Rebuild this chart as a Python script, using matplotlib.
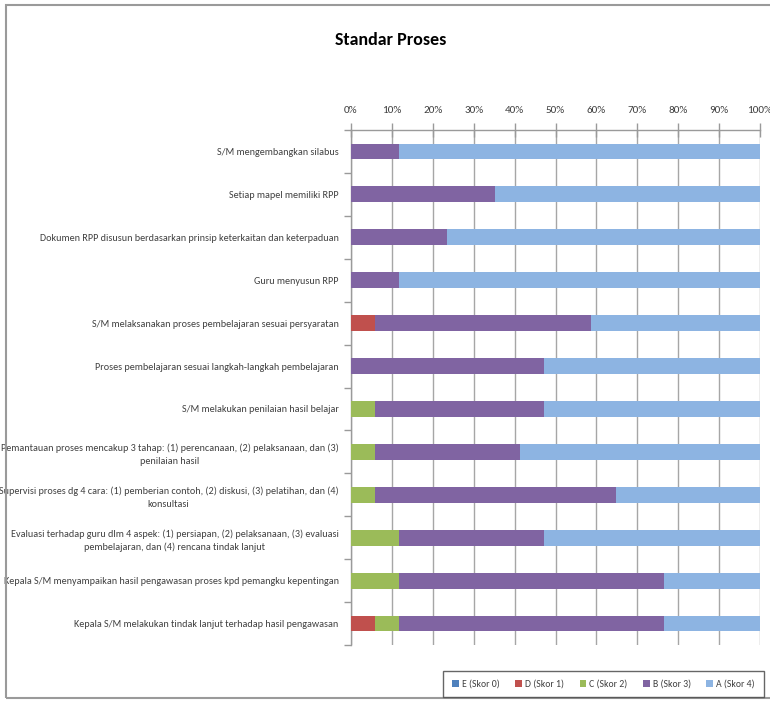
import matplotlib
matplotlib.use("Agg")
import matplotlib.pyplot as plt
import numpy as np
from matplotlib.patches import Rectangle
from matplotlib.ticker import FixedLocator, PercentFormatter

categories = [
    "S/M mengembangkan silabus",
    "Setiap mapel memiliki RPP",
    "Dokumen RPP disusun berdasarkan prinsip keterkaitan dan keterpaduan",
    "Guru menyusun RPP",
    "S/M melaksanakan proses pembelajaran sesuai persyaratan",
    "Proses pembelajaran sesuai langkah-langkah pembelajaran",
    "S/M melakukan penilaian hasil belajar",
    "Pemantauan proses mencakup 3 tahap: (1) perencanaan, (2) pelaksanaan, dan (3)\npenilaian hasil",
    "Supervisi proses dg 4 cara: (1) pemberian contoh, (2) diskusi, (3) pelatihan, dan (4)\nkonsultasi",
    "Evaluasi terhadap guru dlm 4 aspek: (1) persiapan, (2) pelaksanaan, (3) evaluasi\npembelajaran, dan (4) rencana tindak lanjut",
    "Kepala S/M menyampaikan hasil pengawasan proses kpd pemangku kepentingan",
    "Kepala S/M melakukan tindak lanjut terhadap hasil pengawasan",
]

series_names = ["E (Skor 0)", "D (Skor 1)", "C (Skor 2)", "B (Skor 3)", "A (Skor 4)"]

# percentages
E_skor0 = [0, 0, 0, 0, 0, 0, 0, 0, 0, 0, 0, 0]
D_skor1 = [0, 0, 0, 0, 5.9, 0, 0, 0, 0, 0, 0, 5.9]
C_skor2 = [0, 0, 0, 0, 0, 0, 5.9, 5.9, 5.9, 11.8, 11.8, 5.9]
B_skor3 = [11.8, 35.3, 23.5, 11.8, 52.9, 47.1, 41.2, 35.3, 58.8, 35.3, 64.7, 64.7]
A_skor4 = [88.2, 64.7, 76.5, 88.2, 41.2, 52.9, 52.9, 58.8, 35.3, 52.9, 23.5, 23.5]

xtick_values = [0, 10, 20, 30, 40, 50, 60, 70, 80, 90, 100]

colors = ["#4F81BD", "#C0504D", "#9BBB59", "#8064A2", "#8DB4E2"]

FONT = ["Carlito", "DejaVu Sans"]
plt.rcParams["font.family"] = FONT

fig = plt.figure(figsize=(7.7, 7.07), dpi=100)
fig.patch.set_facecolor("white")

# outer chart frame
fig.add_artist(Rectangle((6 / 770, 1 - 698 / 707), 1.2, (698 - 5) / 707,
                         transform=fig.transFigure, fill=False,
                         edgecolor="#9a9a9a", linewidth=1.5))

ax = fig.add_axes([351 / 770, 1 - 645 / 707, 409 / 770, 515 / 707])

y = np.arange(len(categories))
left = np.zeros(len(categories))
data = [E_skor0, D_skor1, C_skor2, B_skor3, A_skor4]
for name, vals, col in zip(series_names, data, colors):
    vals = np.array(vals, dtype=float)
    ax.barh(y, vals, left=left, height=0.37, color=col, label=name, zorder=3)
    left += vals

ax.set_xlim(0, 100)
ax.set_ylim(len(categories) - 0.5, -0.5)

ax.xaxis.tick_top()
ax.set_xticks(xtick_values)
ax.xaxis.set_major_formatter(PercentFormatter(decimals=0))
ax.tick_params(axis="x", which="major", direction="inout", length=10, width=1,
               color="#9a9a9a", labelsize=8, labelcolor="#404040", pad=6)
ax.grid(axis="x", color="#a6a6a6", linewidth=1, zorder=0)

ax.set_yticks(y)
ax.set_yticklabels(categories)
ax.yaxis.set_minor_locator(FixedLocator(np.arange(-0.5, len(categories), 1.0)))
ax.tick_params(axis="y", which="major", length=0, labelsize=7.3, labelcolor="#404040", pad=9)
ax.tick_params(axis="y", which="minor", length=5, width=1, color="#9a9a9a", direction="out")
for lbl in ax.get_yticklabels():
    lbl.set_multialignment("center")
    lbl.set_linespacing(1.5)

for s in ["right", "bottom"]:
    ax.spines[s].set_visible(False)
for s in ["left", "top"]:
    ax.spines[s].set_color("#9a9a9a")
    ax.spines[s].set_linewidth(1)

fig.text(391 / 770, 1 - 40 / 707, "Standar Proses", ha="center", va="center",
         fontsize=13, fontweight="bold", color="#000000")

leg = fig.legend(loc="center", bbox_to_anchor=(603.5 / 770, 1 - 684 / 707),
                 ncol=5, frameon=True, fancybox=False, fontsize=7,
                 handlelength=0.7, handleheight=0.7, handletextpad=0.3,
                 columnspacing=1.6, borderpad=0.9)
leg.get_frame().set_edgecolor("#404040")
leg.get_frame().set_linewidth(1)
for t in leg.get_texts():
    t.set_color("#404040")

fig.savefig("out.png", dpi=100, facecolor="white")
